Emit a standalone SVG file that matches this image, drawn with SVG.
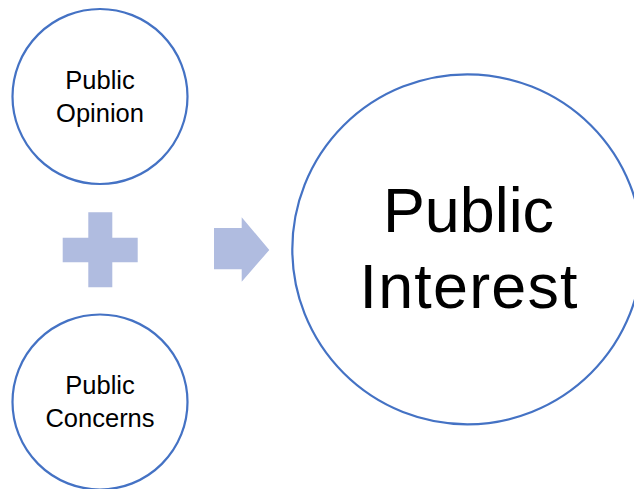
<svg xmlns="http://www.w3.org/2000/svg" width="634" height="489" viewBox="0 0 634 489">
<style>
.node{fill:#FFFFFF;stroke:#4472C4;stroke-width:2.2}
.sym{fill:#B0BCE0;stroke:none}
.lbl{font-family:"Liberation Sans",Arial,sans-serif;fill:#000000;text-anchor:middle}
.small{font-size:25.5px}
.big{font-size:62.8px}
</style>
<rect width="634" height="489" fill="#FFFFFF"/>
<g id="opinion">
<circle class="node" cx="100" cy="96.5" r="87.5"/>
<text class="lbl small" x="100" y="89.3">Public</text>
<text class="lbl small" x="100" y="121.7">Opinion</text>
</g>
<g id="concerns">
<circle class="node" cx="100" cy="402" r="87.5"/>
<text class="lbl small" x="100" y="394.3">Public</text>
<text class="lbl small" x="100" y="426.7">Concerns</text>
</g>
<g id="interest">
<circle class="node" cx="467.3" cy="249.3" r="175"/>
<text class="lbl big" x="468.5" y="231.7">Public</text>
<text class="lbl big" x="468.5" y="308.3" textLength="218" lengthAdjust="spacing">Interest</text>
</g>
<g id="connectors">
<path id="plus" class="sym" d="M88.3,212.3 H112.3 V237.7 H137.7 V262.3 H112.3 V287.3 H88.3 V262.3 H62.7 V237.7 H88.3 Z"/>
<path id="arrow" class="sym" d="M214,228 H241.7 V217.3 L269.3,250 L241.7,281.7 V269.3 H214 Z"/>
</g>
</svg>
